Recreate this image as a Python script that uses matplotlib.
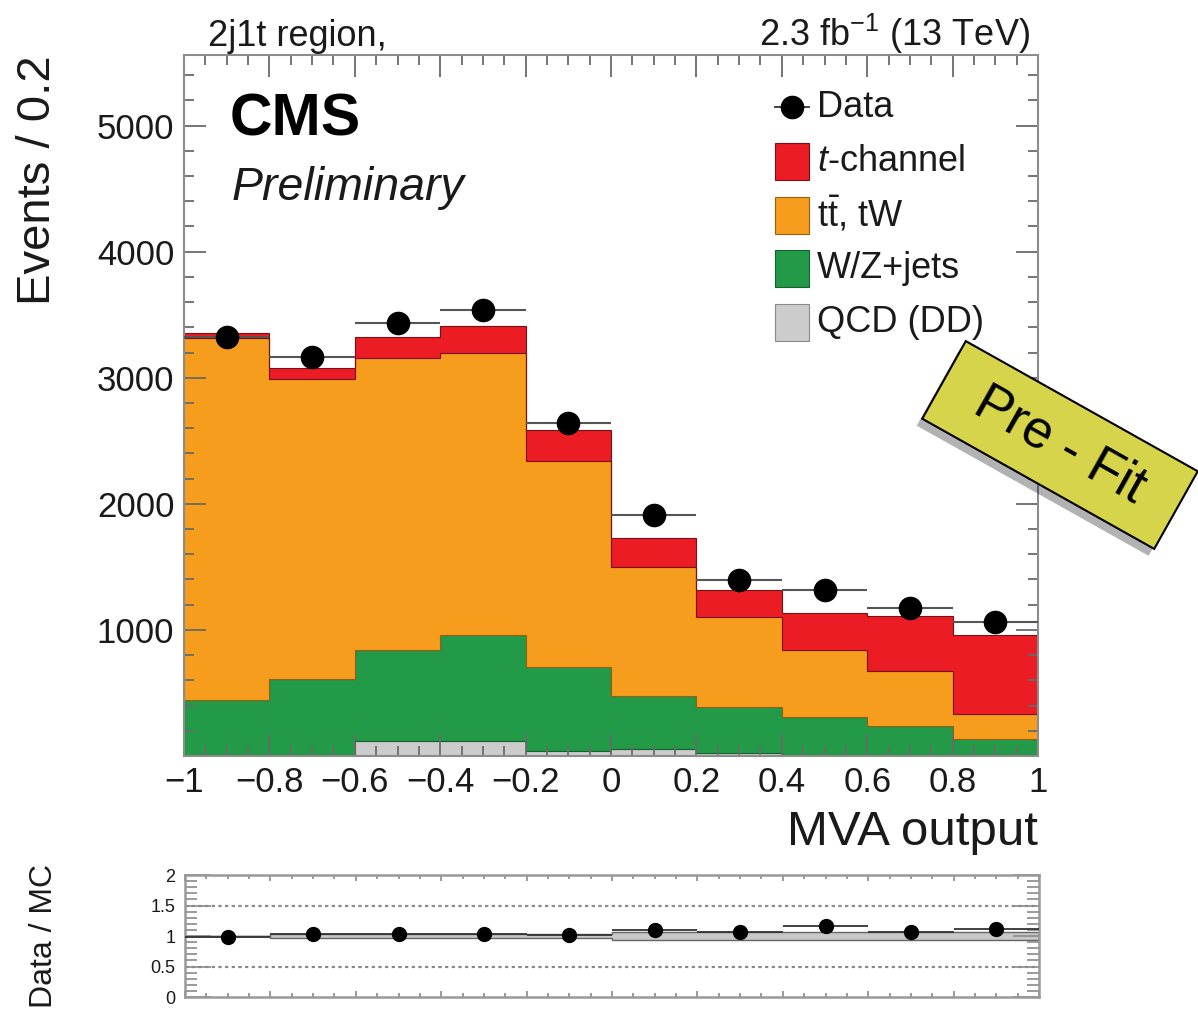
import numpy as np
import matplotlib
matplotlib.use("Agg")
import matplotlib.pyplot as plt
import matplotlib.patheffects as pe
from matplotlib.patches import Rectangle
from matplotlib.lines import Line2D
from matplotlib.transforms import IdentityTransform
from matplotlib.ticker import MultipleLocator

plt.rcParams['font.family'] = ['Liberation Sans', 'DejaVu Sans']
plt.rcParams['mathtext.fontset'] = 'custom'
plt.rcParams['mathtext.rm'] = 'Liberation Sans'
plt.rcParams['mathtext.it'] = 'Liberation Sans:italic'
plt.rcParams['mathtext.bf'] = 'Liberation Sans:bold'

# binning of the MVA output
bin_edges = [-1.0, -0.8, -0.6, -0.4, -0.2, 0.0, 0.2, 0.4, 0.6, 0.8, 1.0]

# stacked backgrounds (events per bin), bottom to top
qcd = [5, 5, 119, 119, 40, 55, 25, 8, 5, 5]
wzjets = [439, 606, 722, 841, 666, 421, 364, 301, 233, 130]
ttbar = [2873, 2379, 2318, 2238, 1630, 1026, 714, 532, 437, 198]
tchan = [40, 89, 166, 215, 251, 228, 214, 294, 436, 627]
data = [3325, 3167, 3437, 3540, 2643, 1913, 1397, 1317, 1175, 1063]

# half width of MC uncertainty band in the ratio panel
mc_unc = [0.0, 0.03, 0.03, 0.03, 0.03, 0.06, 0.06, 0.06, 0.06, 0.06]

xtick_vals = [-1, -0.8, -0.6, -0.4, -0.2, 0, 0.2, 0.4, 0.6, 0.8, 1]
xtick_labels = ['\u22121', '\u22120.8', '\u22120.6', '\u22120.4', '\u22120.2', '0',
                '0.2', '0.4', '0.6', '0.8', '1']
ytick_vals = [1000, 2000, 3000, 4000, 5000]
ratio_ticks = [0, 0.5, 1, 1.5, 2]
ratio_labels = ['0', '0.5', '1', '1.5', '2']

labels = ['QCD (DD)', 'W/Z+jets', r't$\bar{\mathrm{t}}$, tW', '$t$-channel']
face_colors = ['#cccccc', '#229a48', '#f79d1e', '#ec1c24']
edge_colors = ['#8a8a8a', '#15602d', '#9a5e10', '#7a1014']

frame_col = '#8c8c8c'
tick_col = '#6a6a6a'

fig = plt.figure(figsize=(11.98, 10.13), dpi=100)
ax = fig.add_axes([184 / 1198, 1 - 756 / 1013, 854 / 1198, 701 / 1013])
rax = fig.add_axes([185 / 1198, 1 - 997 / 1013, 854 / 1198, 122 / 1013])

edges = np.array(bin_edges)
centers = (edges[:-1] + edges[1:]) / 2
xerr = np.diff(edges) / 2

# stacked histogram
bottom = np.zeros(len(centers))
for vals, fc, ec in zip([qcd, wzjets, ttbar, tchan], face_colors, edge_colors):
    top = bottom + np.array(vals)
    ax.stairs(top, edges, baseline=bottom, fill=True, facecolor=fc,
              edgecolor=ec, linewidth=0.8)
    bottom = top
mc_total = bottom

ax.errorbar(centers, data, xerr=xerr, fmt='o', color='black', markersize=16,
            ecolor='#555555', elinewidth=1.5, capsize=0, zorder=5)

ax.set_xlim(-1, 1)
ax.set_ylim(0, 5560)
ax.set_xticks(xtick_vals)
ax.set_xticklabels(xtick_labels)
ax.set_yticks(ytick_vals)
ax.xaxis.set_minor_locator(MultipleLocator(0.05))
ax.yaxis.set_minor_locator(MultipleLocator(200))
ax.tick_params(which='both', direction='in', top=True, right=True,
               color=tick_col, width=1.3, labelsize=25, labelcolor='#1a1a1a')
ax.tick_params(which='major', length=16)
ax.tick_params(which='minor', length=7.5)
ax.tick_params(axis='x', pad=7)
ax.tick_params(axis='y', pad=7)
for s in ax.spines.values():
    s.set_color(frame_col)
    s.set_linewidth(1.5)

ax.set_ylabel('Events / 0.2', fontsize=34, loc='top', color='#1a1a1a')
ax.yaxis.set_label_coords(-0.145, 1.0)
ax.set_xlabel('MVA output', fontsize=35.5, loc='right', labelpad=8, color='#1a1a1a')

# headers
fig.text(208 / 1198, 1 - 46 / 1013, '2j1t region,', fontsize=26, ha='left',
         va='baseline', color='#1a1a1a')
fig.text(1030 / 1198, 1 - 46 / 1013, r'2.3 fb$^{\mathrm{-1}}$ (13 TeV)', fontsize=26,
         ha='right', va='baseline', color='#1a1a1a')


def axfrac(px, py):
    return ((px - 184) / 854, 1 - (py - 55) / 701)


ax.text(*axfrac(230, 135), 'CMS', fontsize=42.5, fontweight='bold',
        transform=ax.transAxes, va='baseline')
ax.text(*axfrac(232, 200), 'Preliminary', fontsize=33.5, style='italic',
        transform=ax.transAxes, va='baseline', color='#1a1a1a')

# legend drawn by hand
lx0, lx1 = axfrac(775, 0)[0], axfrac(809, 0)[0]
tx = axfrac(817, 0)[0]
dy = axfrac(0, 107)[1]
ax.add_line(Line2D([lx0, lx1], [dy, dy], color='#333333', lw=1.3,
                   transform=ax.transAxes))
ax.plot([(lx0 + lx1) / 2], [dy], 'o', color='black', ms=16,
        transform=ax.transAxes, clip_on=False)
ax.text(tx, dy, 'Data', fontsize=26, va='center', transform=ax.transAxes,
        color='#1a1a1a')
row_y = [161, 215, 268, 322]
box_h = 37 / 701
for ry, lab, fc, ec in zip(row_y, labels[::-1], face_colors[::-1], edge_colors[::-1]):
    cy = axfrac(0, ry)[1]
    ax.add_patch(Rectangle((lx0, cy - box_h / 2), lx1 - lx0, box_h, facecolor=fc,
                           edgecolor=ec, linewidth=0.8, transform=ax.transAxes))
    ax.text(tx, cy, lab, fontsize=26, va='center', transform=ax.transAxes,
            color='#1a1a1a')

# ratio panel
unc = np.array(mc_unc)
ratio = np.array(data) / mc_total
rax.stairs(1 + unc, edges, baseline=1 - unc, fill=True, facecolor='#c8c8c8',
           edgecolor='#666666', linewidth=1.0)
for lvl in [0.5, 1.5]:
    rax.axhline(lvl, color='#8a8a8a', lw=1.6, ls=(0, (1.5, 1.5)))
rax.errorbar(centers, ratio, xerr=xerr, fmt='o', color='black', markersize=10,
             ecolor='#333333', elinewidth=1.3, capsize=0, zorder=5)
rax.set_xlim(-1, 1)
rax.set_ylim(0, 2)
rax.set_yticks(ratio_ticks)
rax.set_yticklabels(ratio_labels)
rax.set_xticks(xtick_vals)
rax.xaxis.set_minor_locator(MultipleLocator(0.05))
rax.yaxis.set_minor_locator(MultipleLocator(0.1))
rax.tick_params(which='both', direction='in', top=True, right=True,
                color='#8a8a8a', width=1.2, labelsize=13, labelbottom=False,
                labelcolor='#1a1a1a', pad=7)
rax.tick_params(axis='y', which='major', length=19)
rax.tick_params(axis='y', which='minor', length=8.5)
rax.tick_params(axis='x', which='major', length=4)
rax.tick_params(axis='x', which='minor', length=3)
for s in rax.spines.values():
    s.set_color('#999999')
    s.set_linewidth(1.8)
rax.set_ylabel('Data / MC', fontsize=23, color='#1a1a1a')
rax.yaxis.set_label_coords(-0.147, 0.5)

# "Pre - Fit" sticker
cx, cy = 1060, 1013 - 445
sticker = Rectangle((cx - 133, cy - 44.5), 266, 89, angle=-29.3,
                    rotation_point='center', transform=IdentityTransform(),
                    facecolor='#d6d44a', edgecolor='black', linewidth=1.5,
                    path_effects=[pe.withSimplePatchShadow(offset=(-4, -5),
                                                           shadow_rgbFace='black',
                                                           alpha=0.3)])
fig.add_artist(sticker)
fig.text(cx / 1198, cy / 1013, 'Pre - Fit', rotation=-29.3, rotation_mode='anchor',
         ha='center', va='center', fontsize=38, color='black')

fig.savefig('out.png', dpi=100)
